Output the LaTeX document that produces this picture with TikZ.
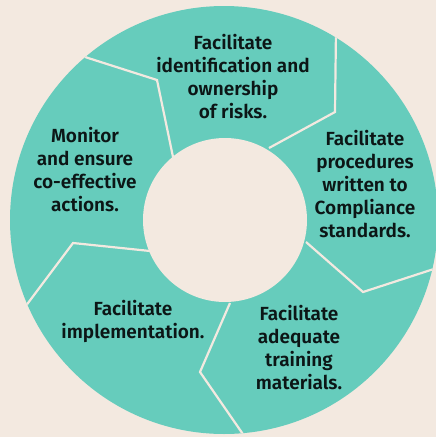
\documentclass[tikz,border=0pt]{standalone}
\usepackage{fontspec}
\setmainfont{Fira Sans}
\newfontfamily\lblfont{Fira Sans SemiBold}
\definecolor{bgbeige}{RGB}{243,233,224}
\definecolor{ringteal}{RGB}{102,204,188}
\definecolor{txtdark}{RGB}{12,22,22}
\begin{document}
\begin{tikzpicture}[x=1pt,y=-1pt,
  sep/.style={draw=bgbeige,line width=2.2pt,line join=miter,line cap=butt},
  lbl/.style={align=center,text=txtdark,font=\lblfont\fontsize{19}{23}\selectfont,inner sep=0pt}]
\fill[bgbeige] (0,0) rectangle (436,437);
\useasboundingbox (0,0) rectangle (436,437);
\begin{scope}
\clip (0,0) rectangle (436,437);
\fill[ringteal] (224,220) circle[radius=214pt];
\fill[bgbeige] (225,220) circle[radius=82pt];
\end{scope}
% separator points
\coordinate (s1a) at (173,157); \coordinate (s1b) at (157,80);  \coordinate (s1c) at (85,57);
\coordinate (s2a) at (269,148); \coordinate (s2b) at (335,112); \coordinate (s2c) at (336,30);
\coordinate (s3a) at (306,242); \coordinate (s3b) at (363,292); \coordinate (s3c) at (440,267);
\coordinate (s4a) at (230,303); \coordinate (s4b) at (200,372); \coordinate (s4c) at (247,440);
\coordinate (s5a) at (150,251); \coordinate (s5b) at (73,243);  \coordinate (s5c) at (25,307);
\begin{scope}
\clip (224,220) circle[radius=214pt];
\draw[sep] (s1a) -- (s1b) -- (s1c);
\draw[sep] (s2a) -- (s2b) -- (s2c);
\draw[sep] (s3a) -- (s3b) -- (s3c);
\draw[sep] (s4a) -- (s4b) -- (s4c);
\draw[sep] (s5a) -- (s5b) -- (s5c);
\end{scope}
\node[lbl] (risks) at (233,77) {Facilitate\\identification and\\ownership\\of risks.};
\node[lbl] (proc) at (365,184) {Facilitate\\procedures\\written to\\Compliance\\standards.};
\node[lbl] (train) at (299,348) {Facilitate\\adequate\\training\\materials.};
\node[lbl] (impl) at (133,321) {Facilitate\\implementation.};
\node[lbl] (mon) at (85,170) {Monitor\\and ensure\\co-effective\\actions.};
\end{tikzpicture}
\end{document}
